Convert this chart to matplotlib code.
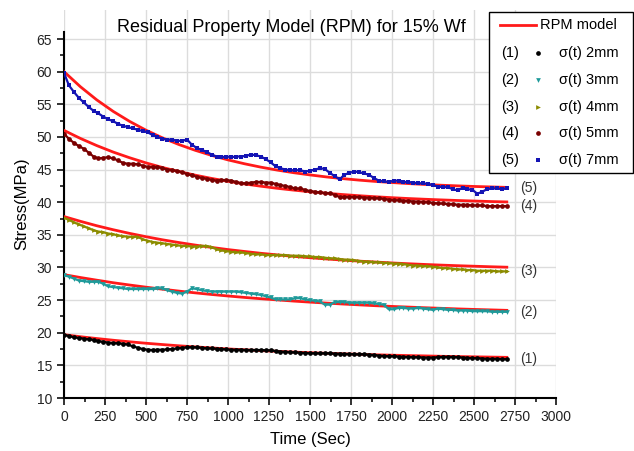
import numpy as np
import matplotlib
matplotlib.use("Agg")
import matplotlib.pyplot as plt
from matplotlib.lines import Line2D
from matplotlib.patches import Rectangle

plt.rcParams['font.family'] = ['Liberation Sans', 'DejaVu Sans']

# measured stress samples, every 30 s from 0 to 2700 s
time_s = np.arange(0, 2701, 30)

stress_2mm = [19.7, 19.5, 19.3, 19.2, 19.1, 19.0, 18.9, 18.7, 18.6, 18.5,
              18.4, 18.4, 18.3, 18.2, 17.9, 17.7, 17.5, 17.4, 17.35, 17.4,
              17.4, 17.45, 17.5, 17.6, 17.7, 17.75, 17.8, 17.75, 17.7, 17.6,
              17.6, 17.55, 17.5, 17.45, 17.4, 17.4, 17.4, 17.35, 17.35, 17.35,
              17.35, 17.3, 17.3, 17.2, 17.1, 17.1, 17.0, 17.0, 16.95, 16.9,
              16.85, 16.85, 16.85, 16.85, 16.85, 16.8, 16.8, 16.75, 16.75, 16.7,
              16.7, 16.7, 16.65, 16.6, 16.5, 16.45, 16.4, 16.4, 16.35, 16.3,
              16.3, 16.25, 16.25, 16.2, 16.2, 16.2, 16.25, 16.3, 16.3, 16.3,
              16.25, 16.2, 16.15, 16.1, 16.1, 16.05, 16.0, 16.0, 16.0, 15.95,
              15.95]

stress_3mm = [28.8, 28.6, 28.3, 28.0, 27.9, 27.8, 27.8, 27.8, 27.5, 27.1,
              27.0, 26.9, 26.8, 26.7, 26.7, 26.7, 26.7, 26.7, 26.7, 26.8,
              26.8, 26.5, 26.3, 26.1, 26.0, 26.3, 26.8, 26.7, 26.5, 26.4,
              26.3, 26.3, 26.3, 26.3, 26.3, 26.3, 26.2, 26.1, 26.0, 25.9,
              25.8, 25.6, 25.4, 25.1, 25.1, 25.1, 25.1, 25.3, 25.3, 25.1,
              25.0, 24.9, 24.8, 24.3, 24.3, 24.7, 24.7, 24.7, 24.6, 24.6,
              24.6, 24.6, 24.6, 24.5, 24.4, 24.3, 23.6, 23.6, 23.8, 23.8,
              23.7, 23.7, 23.8, 23.7, 23.6, 23.5, 23.7, 23.6, 23.5, 23.5,
              23.4, 23.4, 23.4, 23.3, 23.3, 23.3, 23.3, 23.2, 23.2, 23.2,
              23.2]

stress_4mm = [37.6, 37.3, 36.9, 36.6, 36.3, 36.0, 35.7, 35.5, 35.4, 35.2,
              35.1, 34.9, 34.8, 34.7, 34.7, 34.7, 34.3, 34.1, 33.9, 33.8,
              33.7, 33.6, 33.5, 33.4, 33.3, 33.3, 33.2, 33.2, 33.3, 33.3,
              33.1, 32.8, 32.6, 32.5, 32.4, 32.3, 32.3, 32.2, 32.1, 32.0,
              32.0, 31.9, 31.9, 31.9, 31.9, 31.9, 31.8, 31.8, 31.8, 31.7,
              31.7, 31.6, 31.6, 31.5, 31.4, 31.4, 31.3, 31.2, 31.2, 31.1,
              31.0, 30.9, 30.9, 30.8, 30.8, 30.7, 30.7, 30.6, 30.6, 30.5,
              30.4, 30.3, 30.3, 30.2, 30.2, 30.1, 30.0, 29.9, 29.9, 29.8,
              29.7, 29.7, 29.6, 29.6, 29.5, 29.5, 29.5, 29.5, 29.4, 29.4,
              29.4]

stress_5mm = [50.5, 49.7, 49.1, 48.6, 48.2, 47.6, 47.0, 46.7, 46.8, 46.9,
              46.7, 46.4, 46.0, 45.9, 45.9, 45.8, 45.6, 45.4, 45.4, 45.4,
              45.2, 45.0, 44.9, 44.8, 44.6, 44.3, 44.1, 43.9, 43.7, 43.6,
              43.4, 43.3, 43.4, 43.4, 43.3, 43.1, 42.9, 42.9, 43.0, 43.1,
              43.1, 43.0, 43.0, 42.8, 42.6, 42.5, 42.3, 42.1, 42.1, 41.9,
              41.7, 41.6, 41.5, 41.4, 41.4, 41.1, 40.8, 40.8, 40.8, 40.8,
              40.8, 40.7, 40.7, 40.6, 40.6, 40.5, 40.4, 40.3, 40.3, 40.2,
              40.2, 40.1, 40.1, 40.0, 40.0, 39.9, 39.8, 39.8, 39.7, 39.7,
              39.6, 39.6, 39.6, 39.5, 39.5, 39.5, 39.4, 39.4, 39.4, 39.4,
              39.4]

stress_7mm = [59.8, 57.9, 56.9, 56.0, 55.3, 54.6, 54.0, 53.6, 53.1, 52.7,
              52.4, 52.0, 51.7, 51.5, 51.3, 51.1, 50.9, 50.7, 50.3, 50.0,
              49.7, 49.6, 49.6, 49.4, 49.4, 49.6, 48.8, 48.3, 48.0, 47.7,
              47.3, 47.0, 46.9, 47.0, 46.9, 47.0, 47.0, 47.1, 47.3, 47.2,
              47.0, 46.6, 46.1, 45.5, 45.2, 45.0, 44.9, 44.9, 44.9, 44.7,
              44.8, 45.0, 45.2, 45.1, 44.5, 44.0, 43.5, 44.2, 44.5, 44.7,
              44.6, 44.4, 44.2, 43.7, 43.3, 43.2, 43.1, 43.3, 43.3, 43.1,
              43.1, 43.0, 42.9, 42.9, 42.8, 42.6, 42.4, 42.3, 42.3, 42.0,
              41.8, 42.2, 42.0, 41.9, 41.3, 41.6, 42.0, 42.1, 42.1, 42.0,
              42.1]

# RPM model curves, every 100 s from 0 to 2700 s
model_time = np.arange(0, 2701, 100)

rpm_2mm = [19.70, 19.39, 19.11, 18.85, 18.61, 18.39, 18.19, 18.00, 17.83, 17.67,
           17.52, 17.39, 17.26, 17.15, 17.04, 16.94, 16.85, 16.77, 16.70, 16.62,
           16.56, 16.50, 16.45, 16.39, 16.35, 16.31, 16.27, 16.23]
rpm_3mm = [28.90, 28.46, 28.05, 27.66, 27.31, 26.98, 26.67, 26.38, 26.11, 25.86,
           25.63, 25.41, 25.21, 25.03, 24.85, 24.69, 24.54, 24.40, 24.27, 24.14,
           24.03, 23.93, 23.83, 23.74, 23.65, 23.57, 23.50, 23.43]
rpm_4mm = [37.80, 37.07, 36.39, 35.78, 35.22, 34.71, 34.24, 33.82, 33.43, 33.07,
           32.74, 32.45, 32.17, 31.93, 31.70, 31.49, 31.30, 31.13, 30.97, 30.83,
           30.69, 30.57, 30.46, 30.36, 30.27, 30.19, 30.11, 30.04]
rpm_5mm = [51.00, 49.77, 48.67, 47.68, 46.81, 46.02, 45.32, 44.70, 44.14, 43.64,
           43.20, 42.80, 42.45, 42.13, 41.85, 41.60, 41.37, 41.17, 40.99, 40.83,
           40.69, 40.56, 40.45, 40.35, 40.26, 40.18, 40.10, 40.04]
rpm_7mm = [60.00, 57.69, 55.67, 53.91, 52.38, 51.03, 49.86, 48.84, 47.95, 47.17,
           46.48, 45.89, 45.37, 44.92, 44.52, 44.18, 43.87, 43.61, 43.38, 43.18,
           43.01, 42.85, 42.72, 42.60, 42.50, 42.41, 42.34, 42.27]

series_ids = ['(1)', '(2)', '(3)', '(4)', '(5)']
series_names = ['σ(t) 2mm', 'σ(t) 3mm', 'σ(t) 4mm', 'σ(t) 5mm', 'σ(t) 7mm']
measured = [stress_2mm, stress_3mm, stress_4mm, stress_5mm, stress_7mm]
models = [rpm_2mm, rpm_3mm, rpm_4mm, rpm_5mm, rpm_7mm]
colors = ['#000000', '#1f9a9a', '#8c8c00', '#7a0000', '#1414b4']
markers = ['o', 'v', '>', 'o', 's']
model_color = '#ff1a1a'

W, H = 634, 451
fig = plt.figure(figsize=(W / 100, H / 100), dpi=100)


def fpos(x, y):
    """pixel position (top-left origin) -> figure fraction"""
    return x / W, 1 - y / H


ax = fig.add_axes([64 / W, (H - 398) / H, (556 - 64) / W, (398 - 10) / H])

for m in models:
    ax.plot(model_time, m, color=model_color, lw=2.0, zorder=3)

for y, c, mk in zip(measured, colors, markers):
    ax.plot(time_s, y, color=c, lw=1.6, marker=mk, ms=3.4, mew=0, zorder=4)

# series tags at the right end of each record
for y, tag in zip(measured, series_ids):
    ax.text(2780, y[-1], tag, fontsize=10, va='center', ha='left', color='#333333')

ax.set_xlim(0, 3000)
ax.set_ylim(10, 10 + (398 - 10) / 6.527)
ax.set_xticks(np.arange(0, 3001, 250))
ax.set_xticks(np.arange(0, 3001, 125), minor=True)
ax.set_yticks(np.arange(10, 66, 5))
ax.set_yticks(np.arange(10, 66, 2.5), minor=True)
ax.grid(True, which='major', color='#dcdcdc', lw=1.0, zorder=0)
ax.set_axisbelow(True)

for s in ['top', 'right']:
    ax.spines[s].set_visible(False)
ax.spines['left'].set_bounds(10, 66)
ax.spines['left'].set_linewidth(1.5)
ax.spines['bottom'].set_linewidth(1.5)
ax.tick_params(which='major', direction='out', length=5, width=1.3, labelsize=10, colors='#222222')
ax.tick_params(which='minor', direction='out', length=3, width=1.1)

ax.set_xlabel('Time (Sec)', fontsize=12, labelpad=6)
ax.set_ylabel('Stress(MPa)', fontsize=12, labelpad=5)

fig.text(*fpos(291, 27), 'Residual Property Model (RPM) for 15% Wf',
         fontsize=13, ha='center', va='center')

# legend block
x0, y0 = fpos(489, 173)
x1, y1 = fpos(633, 12)
fig.add_artist(Rectangle((x0, y0), x1 - x0, y1 - y0, transform=fig.transFigure,
                         facecolor='white', edgecolor='black', lw=1.0, zorder=5))
lx0, ly = fpos(500, 25)
lx1, _ = fpos(536, 25)
fig.add_artist(Line2D([lx0, lx1], [ly, ly], transform=fig.transFigure,
                      color=model_color, lw=2.0, zorder=6))
fig.text(*fpos(540, 25), 'RPM model', fontsize=10.5, va='center', ha='left', zorder=6)
for i, (tag, name, c, mk) in enumerate(zip(series_ids, series_names, colors, markers)):
    yy = 53.3 + i * 26.7
    fig.text(*fpos(501, yy), tag, fontsize=10.5, va='center', ha='left', zorder=6)
    mx, my = fpos(538, yy)
    fig.add_artist(Line2D([mx], [my], transform=fig.transFigure, color=c,
                          marker=mk, ms=3.4, mew=0, ls='none', zorder=6))
    fig.text(*fpos(559, yy), name, fontsize=10.5, va='center', ha='left', zorder=6)

fig.savefig('out.png', dpi=100)
